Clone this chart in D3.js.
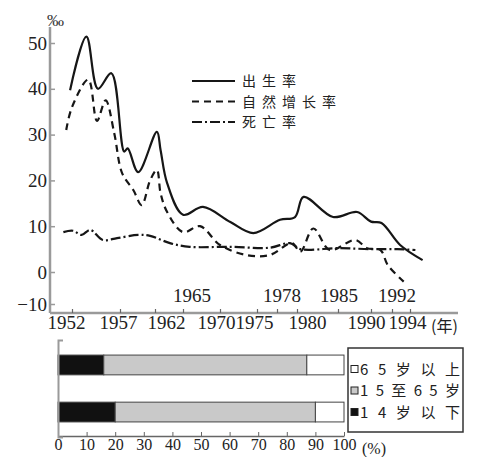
<!DOCTYPE html>
<html>
<head>
<meta charset="utf-8">
<script src="https://cdn.jsdelivr.net/npm/d3@7"></script>
<style>
  body { margin: 0; background: #fff; }
  svg { display: block; }
</style>
</head>
<body>
<svg class="d" width="482" height="457"></svg>
<script>

// ---- data ----
var birthYears = [1951.8, 1953.5, 1954.7, 1956.1, 1957.6, 1958.1, 1959.6, 1962.2, 1962.6, 1963.3, 1965, 1967.7, 1971.4, 1974.5, 1978.3, 1979.8, 1980.8, 1984.4, 1987.9, 1990, 1991, 1992.9, 1995.4];
var birthRate  = [39.7, 51.4, 40, 43.4, 26.3, 27, 21.8, 30.6, 26.6, 19.4, 12.5, 14.2, 10.9, 8.5, 11.4, 12, 16.4, 12, 13.1, 11, 10.7, 5.9, 2.6];

var natYears = [1951.4, 1952, 1953.7, 1954.6, 1955.5, 1956.4, 1957.3, 1958.9, 1960.1, 1961.3, 1962.2, 1962.6, 1963.3, 1965, 1967.3, 1970, 1973.6, 1976.9, 1979.5, 1980.4, 1982, 1984, 1987.6, 1989.4, 1990.9, 1991.6, 1993.3];
var natRate  = [31, 36, 42, 33, 37.5, 30.3, 21.6, 17.9, 14.6, 20, 22.3, 17.2, 13.1, 8.7, 10, 5.9, 3.7, 3.7, 6.3, 4.4, 9.5, 4.8, 7, 5.2, 4.8, 1.5, -3];

var deathYears = [1951.1, 1952.1, 1953, 1953.9, 1955.2, 1956.7, 1959.6, 1961.3, 1963.6, 1965.9, 1971.3, 1976.9, 1979.3, 1980.4, 1985, 1990, 1992.6, 1994.6];
var deathRate  = [8.7, 9, 8.1, 9.2, 7, 7.4, 8.1, 7.9, 6.3, 5.5, 5.5, 5.3, 6.3, 5, 5.2, 5, 5, 4.8];

var seriesNames = ["出生率", "自然增长率", "死亡率"];

var yTicks = [-10, 0, 10, 20, 30, 40, 50];
var lowerYearLabels = [1952, 1957, 1962, 1970, 1975, 1980, 1990, 1994];
var upperYearLabels = [1965, 1978, 1985, 1992];

// age structure bars (%)
var barGroups = ["甲", "乙"];
var ageKeys = ["14岁以下", "15至65岁", "65岁以上"];
var under14 = [16, 20];
var mid15to65 = [71, 70];
var over65 = [13, 10];
var pctTicks = [0, 10, 20, 30, 40, 50, 60, 70, 80, 90, 100];

var svg = d3.select("svg.d");
var serif = "'Liberation Serif', 'DejaVu Serif', serif";
var cjk = "'Noto Sans CJK SC', sans-serif";
var axisGrey = "#9a9a9a";

// the printed labels sit a little off their tick marks
var labelShift = { 1952: -6, 1957: -2, 1962: 11, 1970: -4, 1975: -3, 1980: 10, 1990: -5, 1994: -3,
                   1965: 9, 1978: 5, 1985: 1, 1992: 5 };

// ---- top chart scales (the printed year axis is not evenly spaced) ----
var allYears = lowerYearLabels.concat(upperYearLabels).sort(d3.ascending);
var x = d3.scaleLinear()
    .domain(allYears)
    .range([72, 120, 155, 183, 220, 257, 277, 297, 338, 371, 392, 410]);

var y = d3.scaleLinear()
    .domain([-10, 0, 50])
    .range([304, 272, 43]);

// axes frame
svg.append("line").attr("x1", 50).attr("x2", 50).attr("y1", 27).attr("y2", 313)
    .attr("stroke", axisGrey).attr("stroke-width", 2.5);
svg.append("line").attr("x1", 50).attr("x2", 458).attr("y1", 313).attr("y2", 313)
    .attr("stroke", axisGrey).attr("stroke-width", 2.5);

var yAxis = svg.append("g")
    .attr("transform", "translate(50,0)")
    .call(d3.axisLeft(y).tickValues(yTicks).tickSizeInner(-5).tickSizeOuter(0).tickPadding(3));
yAxis.select(".domain").remove();
yAxis.selectAll(".tick line").attr("stroke", axisGrey).attr("stroke-width", 1.5);
yAxis.selectAll(".tick text")
    .style("font-family", serif).style("font-size", "19px").attr("fill", "#222");

svg.append("text")
    .attr("x", 47).attr("y", 26)
    .style("font-family", serif).style("font-size", "17px").attr("fill", "#333")
    .text("‰");

var xAxis = svg.append("g")
    .attr("transform", "translate(0,313)")
    .call(d3.axisBottom(x).tickValues(allYears).tickSizeInner(-4).tickSizeOuter(0).tickPadding(2)
      .tickFormat(d => lowerYearLabels.indexOf(d) >= 0 ? d : ""));
xAxis.select(".domain").remove();
xAxis.selectAll(".tick line").attr("stroke", "#666").attr("stroke-width", 1.2);
xAxis.selectAll(".tick text")
    .attr("dx", d => labelShift[d] || 0)
    .style("font-family", serif).style("font-size", "19px").attr("fill", "#222");

svg.selectAll(".upper-year")
    .data(upperYearLabels)
    .enter().append("text")
      .attr("class", "upper-year")
      .attr("x", d => x(d) + labelShift[d])
      .attr("y", 302)
      .attr("text-anchor", "middle")
      .style("font-family", serif).style("font-size", "19px").attr("fill", "#222")
      .text(d => d);

svg.append("text")
    .attr("x", 431).attr("y", 332)
    .style("font-family", cjk).style("font-size", "16px").attr("fill", "#222")
    .text("(年)");

// ---- curves ----
var line = d3.line()
    .x(d => x(d[0]))
    .y(d => y(d[1]))
    .curve(d3.curveCatmullRom.alpha(0.5));

var series = [
  { name: seriesNames[0], pts: d3.zip(birthYears, birthRate), dash: null },
  { name: seriesNames[1], pts: d3.zip(natYears, natRate), dash: "7,5" },
  { name: seriesNames[2], pts: d3.zip(deathYears, deathRate), dash: "10,3,2,3" }
];

svg.append("g")
  .selectAll("path")
  .data(series)
  .enter().append("path")
    .attr("d", d => line(d.pts))
    .attr("fill", "none")
    .attr("stroke", "#161616")
    .attr("stroke-width", 2.2)
    .attr("stroke-linejoin", "round")
    .attr("stroke-dasharray", d => d.dash);

// legend
var legend = svg.append("g")
  .selectAll("g")
  .data(series)
  .enter().append("g")
    .attr("transform", (d, i) => "translate(192," + (81 + i * 20.5) + ")");

legend.append("line")
    .attr("x1", 0).attr("x2", 43)
    .attr("stroke", "#161616").attr("stroke-width", 2.2)
    .attr("stroke-dasharray", d => d.dash);

legend.append("text")
    .attr("x", 50).attr("dy", "0.36em")
    .style("font-family", cjk).style("font-size", "14px").style("letter-spacing", "6px")
    .attr("fill", "#222")
    .text(d => d.name);

// ---- bottom chart: age structure ----
var xp = d3.scaleLinear().domain([0, 100]).range([58, 344]);
var yb = d3.scaleBand().domain(barGroups).range([340, 437]).paddingInner(0.58).paddingOuter(0.32);

var rows = barGroups.map((g, i) => ({ group: g, "14岁以下": under14[i], "15至65岁": mid15to65[i], "65岁以上": over65[i] }));
var stacked = d3.stack().keys(ageKeys)(rows);
var fills = d3.scaleOrdinal().domain(ageKeys).range(["#111", "#c9c9c9", "#fff"]);

svg.append("g")
  .selectAll("g")
  .data(stacked)
  .enter().append("g")
    .attr("fill", d => fills(d.key))
  .selectAll("rect")
  .data(d => d)
  .enter().append("rect")
    .attr("x", d => xp(d[0]))
    .attr("y", d => yb(d.data.group))
    .attr("width", d => xp(d[1]) - xp(d[0]))
    .attr("height", yb.bandwidth())
    .attr("stroke", "#444")
    .attr("stroke-width", 1);

var bxAxis = svg.append("g")
    .attr("transform", "translate(0,436)")
    .call(d3.axisBottom(xp).tickValues(pctTicks).tickSizeInner(-4).tickSizeOuter(0).tickPadding(3));
bxAxis.select(".domain").attr("stroke", "#666").attr("stroke-width", 1.5);
bxAxis.selectAll(".tick line").attr("stroke", "#666");
bxAxis.selectAll(".tick text")
    .style("font-family", serif).style("font-size", "16px").attr("fill", "#222");

svg.append("text")
    .attr("x", 362).attr("y", 454)
    .style("font-family", serif).style("font-size", "16px").attr("fill", "#222")
    .text("(%)");

var byAxis = svg.append("g")
    .attr("transform", "translate(58,0)")
    .call(d3.axisLeft(yb).tickSize(0).tickSizeOuter(-5).tickFormat(""));
byAxis.select(".domain").attr("stroke", axisGrey).attr("stroke-width", 2);

// legend box
svg.append("rect")
    .attr("x", 348).attr("y", 348).attr("width", 115).attr("height", 84)
    .attr("fill", "none").attr("stroke", "#333").attr("stroke-width", 1.5);

var ageLegend = svg.append("g")
  .selectAll("g")
  .data(ageKeys.slice().reverse())
  .enter().append("g")
    .attr("transform", (d, i) => "translate(351," + (369 + i * 21.5) + ")");

ageLegend.append("rect")
    .attr("x", 0).attr("y", -3.5).attr("width", 7).attr("height", 7)
    .attr("fill", d => fills(d)).attr("stroke", "#222").attr("stroke-width", 1);

ageLegend.append("text")
    .attr("x", 9).attr("dy", "0.38em")
    .attr("textLength", 100).attr("lengthAdjust", "spacing")
    .style("font-family", cjk).style("font-size", "15px").attr("fill", "#222")
    .text(d => d);

</script>
</body>
</html>
